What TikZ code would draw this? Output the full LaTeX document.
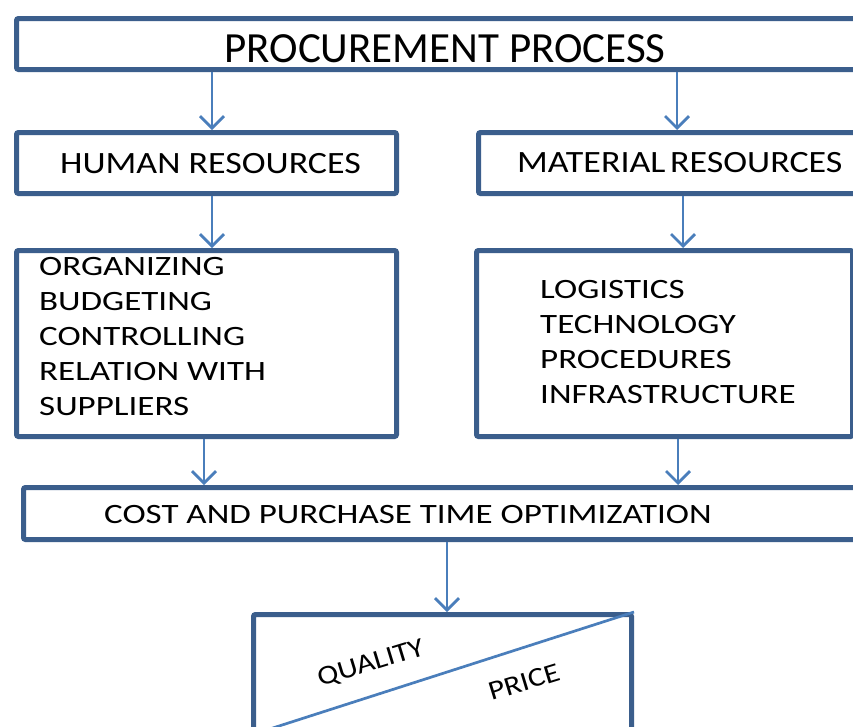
\documentclass[tikz,border=0pt]{standalone}
\usepackage{fontspec}
\setmainfont{Carlito}
\newfontfamily\titlefont{Carlito}
\newfontfamily\midfont[FakeStretch=1.16]{Carlito}
\newfontfamily\widefont[FakeStretch=1.25]{Carlito}
\usetikzlibrary{arrows.meta}
\definecolor{boxblue}{HTML}{3B5E8C}
\definecolor{arrowblue}{HTML}{4A7EBB}
\tikzset{
  panel/.style={draw=boxblue, line width=5pt, rounded corners=2pt, inner sep=0pt,
                anchor=north west, fill=white},
  flow/.style={draw=arrowblue, line width=2.7pt,
               -{Straight Barb[length=12pt,width=24pt,line width=2.7pt]}},
  divider/.style={draw=arrowblue, line width=2.7pt},
  txt/.style={inner sep=0pt, text=black},
  headtext/.style={txt, font=\midfont\fontsize{31}{36}\selectfont, anchor=base west},
  itemtext/.style={txt, font=\widefont\fontsize{28}{34}\selectfont, anchor=base west},
  slanttext/.style={txt, font=\midfont\fontsize{27}{32}\selectfont, rotate=17},
}
\begin{document}
\begin{tikzpicture}[x=1pt,y=-1pt]
\useasboundingbox (0,0) rectangle (853,726);
\clip (0,0) rectangle (853,726);
\fill[white] (0,0) rectangle (853,726);

% frames
\node[panel, minimum width=860pt, minimum height=51pt] (proc) at (14,16) {};
\node[panel, minimum width=380pt, minimum height=61pt] (hr)   at (14,130) {};
\node[panel, minimum width=394pt, minimum height=61pt] (mr)   at (476,130) {};
\node[panel, minimum width=380pt, minimum height=186pt] (hl)  at (14,248) {};
\node[panel, minimum width=376pt, minimum height=186pt] (ml)  at (474,248) {};
\node[panel, minimum width=850pt, minimum height=52pt] (cost) at (21,485) {};
\node[panel, minimum width=378pt, minimum height=118pt] (qp)  at (251,612) {};

% guides for the vertical connectors
\coordinate (xa) at (212,0);
\coordinate (xb) at (677,0);
\coordinate (xc) at (683,0);
\coordinate (xd) at (204,0);
\coordinate (xe) at (678,0);
\coordinate (xf) at (447,0);

\draw[flow] (proc.south -| xa) -- (hr.north -| xa);
\draw[flow] (proc.south -| xb) -- (mr.north -| xb);
\draw[flow] (hr.south -| xa) -- (hl.north -| xa);
\draw[flow] (mr.south -| xc) -- (ml.north -| xc);
\draw[flow] (hl.south -| xd) -- (cost.north -| xd);
\draw[flow] (ml.south -| xe) -- (cost.north -| xe);
\draw[flow] (cost.south -| xf) -- (qp.north -| xf);

% split of the last frame
\draw[divider] (qp.north east) -- (qp.south west);

% texts
\node[txt, font=\titlefont\fontsize{43}{50}\selectfont, anchor=base] (tproc) at (445,62) {PROCUREMENT PROCESS};
\node[headtext] (thr) at (60,173) {HUMAN RESOURCES};
\node[headtext] (tmr) at (517,172) {MATERIAL\hspace{-3.5pt} RESOURCES};
\foreach \t [count=\i] in {ORGANIZING, BUDGETING, CONTROLLING, RELATION WITH, SUPPLIERS}
  \node[itemtext] (thl\i) at (39,{275+35*(\i-1)}) {\t};
\foreach \t [count=\i] in {LOGISTICS, TECHNOLOGY, PROCEDURES, INFRASTRUCTURE}
  \node[itemtext] (tml\i) at (540,{298+35*(\i-1)}) {\t};
\node[itemtext] (tcost) at (104,523) {COST AND PURCHASE TIME OPTIMIZATION};
\node[slanttext] (tq) at (371,664) {QUALITY};
\node[slanttext] (tp) at (524,682) {PRICE};
\end{tikzpicture}
\end{document}
